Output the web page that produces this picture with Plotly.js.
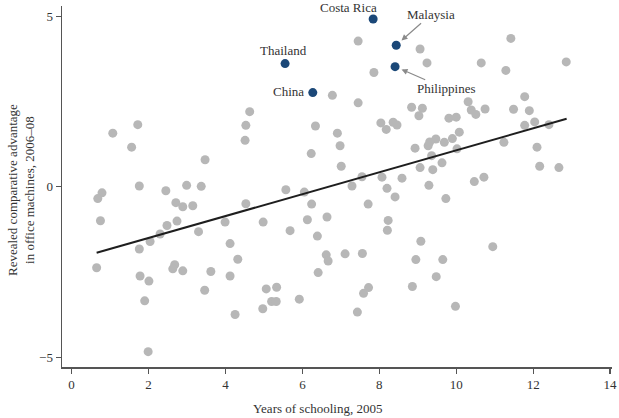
<!DOCTYPE html>
<html><head><meta charset="utf-8">
<script src="https://cdn.plot.ly/plotly-3.0.1.min.js"></script>
<style>html,body{margin:0;padding:0;background:#fff}#chart{width:619px;height:418px}</style>
</head><body><div id="chart"></div>
<script>
// Gray countries: years of schooling (x), revealed comparative advantage (y)
const grayX = [4.63,4.53,1.72,1.07,1.56,4.51,6.34,6.23,3.47,1.76,2.99,3.37,2.45,0.79,0.68,2.71,2.89,3.15,4.53,5.57,6.05,6.24,
  7.45,9.06,9.24,7.86,10.65,11.42,11.29,12.86,6.78,7.45,6.91,6.98,7.01,8.84,9.12,9.03,8.04,8.18,8.36,8.46,9.81,10.00,10.31,10.39,10.51,10.75,
  11.49,11.78,11.90,11.78,12.04,12.41,10.08,9.90,9.69,9.47,9.31,9.27,8.93,10.02,9.36,11.24,12.10,9.63,9.06,9.39,12.17,12.67,
  7.55,8.07,8.59,7.29,8.20,9.29,10.47,10.72,7.71,8.41,9.73,0.75,2.48,2.74,2.30,2.04,1.76,3.30,3.99,4.98,5.68,6.13,6.39,4.12,4.32,
  0.65,1.78,2.01,2.68,2.63,2.89,3.62,4.12,6.41,1.90,3.46,5.06,5.33,5.20,5.32,5.92,4.97,4.25,1.99,6.64,8.23,8.21,9.08,7.11,7.56,6.62,6.67,
  8.95,9.65,10.95,9.48,8.86,7.72,7.59,9.98,7.43];
const grayY = [2.20,1.80,1.82,1.57,1.16,1.36,1.78,0.97,0.79,0.02,0.04,0.01,-0.12,-0.18,-0.35,-0.47,-0.59,-0.56,-0.50,-0.09,-0.16,-0.51,
  4.27,4.04,3.63,3.35,3.63,4.35,3.41,3.66,2.68,2.46,1.57,1.20,0.60,2.33,2.30,2.08,1.87,1.68,1.89,1.81,2.01,2.04,2.49,2.25,2.12,2.28,
  2.27,2.64,2.23,1.80,1.90,1.82,1.60,1.41,1.30,1.40,1.31,1.20,1.13,1.11,0.91,1.30,1.16,0.70,0.56,0.50,0.60,0.56,
  0.29,0.28,0.25,0.02,-0.05,0.04,0.15,0.28,-0.51,-0.30,-0.35,-1.00,-1.14,-1.01,-1.39,-1.61,-1.83,-1.32,-1.04,-1.04,-1.29,-0.97,-1.45,-1.67,-2.13,
  -2.38,-2.62,-2.77,-2.29,-2.41,-2.47,-2.49,-2.62,-2.52,-3.35,-3.04,-3.00,-2.95,-3.37,-3.37,-3.30,-3.58,-3.75,-4.84,-0.89,-0.99,-1.28,-1.60,-1.97,-1.96,-2.00,-2.18,
  -2.14,-2.14,-1.76,-2.64,-2.93,-2.96,-3.13,-3.51,-3.68];
// Highlighted countries
const hiNames = ["Thailand","China","Costa Rica","Malaysia","Philippines"];
const hiX = [5.55,6.27,7.84,8.44,8.41];
const hiY = [3.61,2.76,4.92,4.15,3.52];
// Fitted line end points
const fitX = [0.65,12.87];
const fitY = [-1.94,1.99];
const xTicks = [0,2,4,6,8,10,12,14];
const yTicks = [-5,0,5];

const serif = "'Liberation Serif', 'Times New Roman', serif";
const traces = [
  {x: grayX, y: grayY, type:'scatter', mode:'markers', marker:{size:9, color:'#b7b7b7'}, hoverinfo:'none'},
  {x: fitX, y: fitY, type:'scatter', mode:'lines', line:{color:'#1e1e1e', width:2}, hoverinfo:'none'},
  {x: hiX, y: hiY, type:'scatter', mode:'markers', marker:{size:9, color:'#1b4878'}, hoverinfo:'none'}
];
const lab = {font:{family:serif, size:13, color:'#333'}, showarrow:false, xref:'x', yref:'y'};
const annotations = [
  Object.assign({}, lab, {x:hiX[0], y:hiY[0], text:hiNames[0], xshift:-2, yshift:13}),
  Object.assign({}, lab, {x:hiX[1], y:hiY[1], text:hiNames[1], xanchor:'right', xshift:-7, yshift:1}),
  Object.assign({}, lab, {x:hiX[2], y:hiY[2], text:hiNames[2], xshift:-25, yshift:11}),
  Object.assign({}, lab, {x:hiX[3], y:hiY[3], text:hiNames[3], showarrow:true, ax:35, ay:-31, arrowcolor:'#8a8a8a', arrowwidth:1.2, arrowhead:2, arrowsize:1, standoff:7}),
  Object.assign({}, lab, {x:hiX[4], y:hiY[4], text:hiNames[4], showarrow:true, ax:51, ay:22, arrowcolor:'#8a8a8a', arrowwidth:1.2, arrowhead:2, arrowsize:1, standoff:7}),
  {xref:'paper', yref:'paper', x:(317-62)/550, y:-(408-367)/361, xanchor:'center', yanchor:'middle', text:'Years of schooling, 2005', showarrow:false, font:{family:serif, size:13, color:'#333'}},
  {xref:'paper', yref:'paper', x:-(62-21)/550, y:(367-190)/361, xanchor:'center', yanchor:'middle', textangle:-90, text:'Revealed comparative advantage<br>in office machines, 2006–08', showarrow:false, font:{family:serif, size:13, color:'#333'}}
];
const axisCommon = {showgrid:false, zeroline:false, showline:true, linecolor:'#555', linewidth:1.5, ticks:'outside', ticklen:5, tickcolor:'#555', tickwidth:1.2, tickfont:{family:serif, size:13, color:'#333'}};
const layout = {
  width:619, height:418, margin:{l:62, r:7, t:6, b:51},
  paper_bgcolor:'#fff', plot_bgcolor:'#fff', showlegend:false,
  xaxis: Object.assign({}, axisCommon, {range:[-0.25,14.05], tickvals:xTicks, ticktext:xTicks.map(String)}),
  yaxis: Object.assign({}, axisCommon, {range:[-5.29,5.30], tickvals:yTicks, ticktext:yTicks.map(v=>v<0?'\u2212'+Math.abs(v):String(v))}),
  annotations: annotations
};
Plotly.newPlot('chart', traces, layout, {displayModeBar:false, staticPlot:true});
</script></body></html>
